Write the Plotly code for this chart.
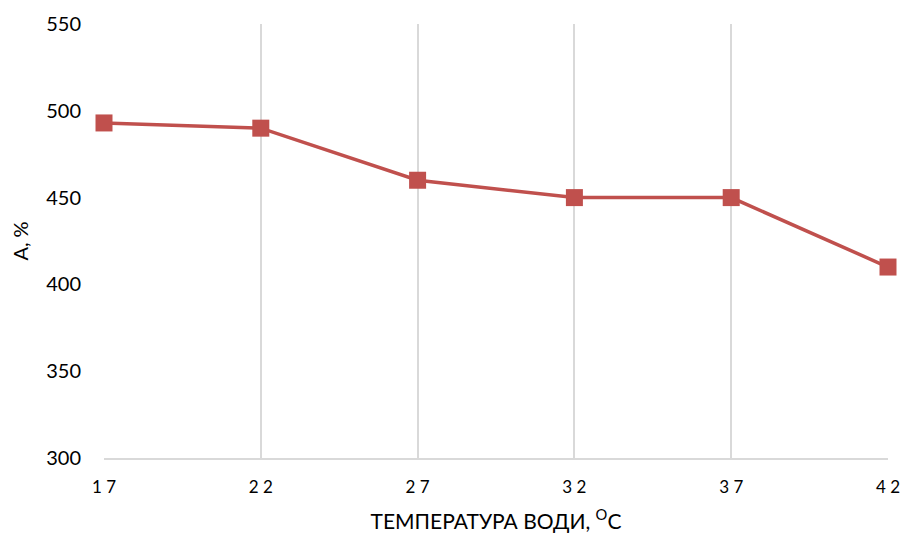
import plotly.graph_objects as go

temperature = [17, 22, 27, 32, 37, 42]
a_values = [493, 490, 460, 450, 450, 410]
x_tick_labels = ["1 7", "2 2", "2 7", "3 2", "3 7", "4 2"]
y_ticks = [300, 350, 400, 450, 500, 550]

color = "#C0504D"
font = "Lato, 'Open Sans', sans-serif"

fig = go.Figure()
fig.add_trace(go.Scatter(
    x=temperature, y=a_values, mode="lines+markers",
    line=dict(color=color, width=3.5),
    marker=dict(symbol="square", size=17, color=color),
    showlegend=False, cliponaxis=False,
))

fig.update_layout(
    width=903, height=534, autosize=False,
    margin=dict(l=104, r=15, t=24, b=76, autoexpand=False),
    paper_bgcolor="white", plot_bgcolor="white",
    font=dict(family=font, color="#000000"),
    xaxis=dict(
        range=[17, 42], tickvals=temperature, ticktext=x_tick_labels,
        showgrid=True, gridcolor="#D9D9D9", gridwidth=1.5, automargin=False,
        zeroline=False, showline=True, linecolor="#D9D9D9", linewidth=1.5,
        tickfont=dict(size=17), ticks="", ticklabelstandoff=13,
        title=dict(text="ТЕМПЕРАТУРА ВОДИ, <sup>O</sup>C", font=dict(size=21), standoff=18),
    ),
    yaxis=dict(
        range=[300, 550], tickvals=y_ticks, automargin=False,
        showgrid=False, zeroline=False, showline=False,
        tickfont=dict(size=20), ticks="", ticklabelstandoff=22,
        title=dict(text="А, %", font=dict(size=20), standoff=12),
    ),
)

fig.write_html("out.html")
